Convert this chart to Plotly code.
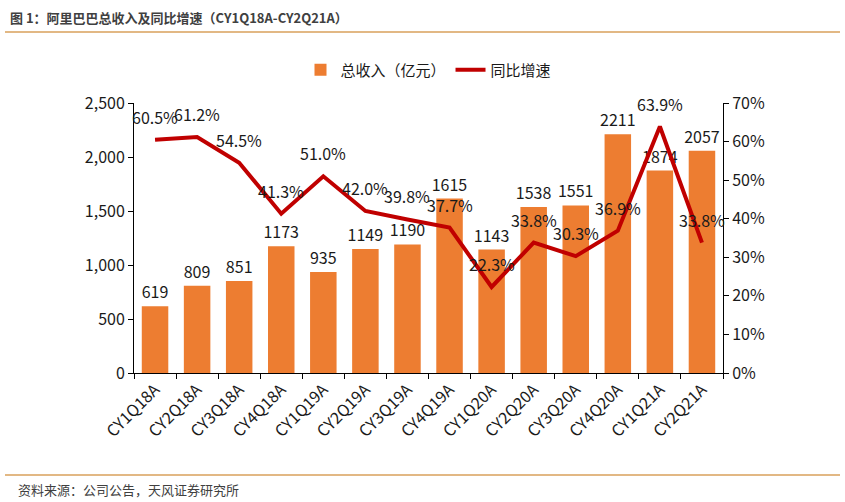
import plotly.graph_objects as go

categories = ["CY1Q18A", "CY2Q18A", "CY3Q18A", "CY4Q18A", "CY1Q19A", "CY2Q19A", "CY3Q19A",
              "CY4Q19A", "CY1Q20A", "CY2Q20A", "CY3Q20A", "CY4Q20A", "CY1Q21A", "CY2Q21A"]
revenue = [619, 809, 851, 1173, 935, 1149, 1190, 1615, 1143, 1538, 1551, 2211, 1874, 2057]
growth = [0.605, 0.612, 0.545, 0.413, 0.510, 0.420, 0.398, 0.377, 0.223, 0.338, 0.303, 0.369, 0.639, 0.338]
growth_labels = ["60.5%", "61.2%", "54.5%", "41.3%", "51.0%", "42.0%", "39.8%", "37.7%",
                 "22.3%", "33.8%", "30.3%", "36.9%", "63.9%", "33.8%"]

FONT = "Noto Sans CJK SC"
TXT = "#1a1a1a"
PW, PH = 589, 270

fig = go.Figure()
fig.add_trace(go.Bar(
    x=categories, y=revenue, name="总收入（亿元）",
    marker=dict(color="#ED7D31", line=dict(width=0)),
    width=0.63,
    text=[str(v) for v in revenue], textposition="outside",
    textfont=dict(size=16, color=TXT, family=FONT),
    constraintext="none",
    cliponaxis=False,
))
fig.add_trace(go.Scatter(
    x=categories, y=growth, name="同比增速", yaxis="y2",
    mode="lines", line=dict(color="#C00000", width=4),
))

for c, g, t in zip(categories, growth, growth_labels):
    fig.add_annotation(x=c, y=g, xref="x", yref="y2", text=t, showarrow=False,
                       yshift=23, font=dict(size=16, color=TXT, family=FONT))

fig.update_layout(
    width=845, height=502,
    paper_bgcolor="white", plot_bgcolor="white",
    margin=dict(l=134, r=122, t=103, b=129, autoexpand=False),
    font=dict(family=FONT, color=TXT),
    bargap=0.37,
    showlegend=True,
    legend=dict(orientation="h", x=0.5, xanchor="center", y=1 + (103 - 70) / PH, yanchor="middle",
                font=dict(size=15, color=TXT, family=FONT), traceorder="normal",
                itemwidth=30),
    xaxis=dict(
        type="category", tickangle=-45, tickfont=dict(size=16, color=TXT, family=FONT),
        showline=True, linecolor="#000", linewidth=1,
        ticks="outside", ticklen=5, tickcolor="#000", tickson="boundaries",
        showgrid=False, range=[-0.5, 13.5], automargin=False,
    ),
    yaxis=dict(
        range=[0, 2500], dtick=500, tickformat=",",
        tickfont=dict(size=16, color=TXT, family=FONT),
        showline=True, linecolor="#000", linewidth=1,
        ticks="outside", ticklen=5, tickcolor="#000",
        showgrid=False, zeroline=False, automargin=False,
    ),
    yaxis2=dict(
        range=[0, 0.7], dtick=0.1, tickformat=".0%", overlaying="y", side="right",
        tickfont=dict(size=16, color=TXT, family=FONT),
        showline=True, linecolor="#000", linewidth=1,
        ticks="outside", ticklen=5, tickcolor="#000",
        showgrid=False, zeroline=False, automargin=False,
    ),
)

# Title, source and separator lines
fig.add_annotation(xref="paper", yref="paper", x=-126 / PW, y=1 + (103 - 18) / PH, xanchor="left", yanchor="middle",
                   text="<b>图 1：阿里巴巴总收入及同比增速（CY1Q18A-CY2Q21A）</b>", showarrow=False,
                   font=dict(size=13, color="#404040", family=FONT))
fig.add_annotation(xref="paper", yref="paper", x=-118 / PW, y=-(489 - 373) / PH, xanchor="left", yanchor="middle",
                   text="资料来源：公司公告，天风证券研究所", showarrow=False,
                   font=dict(size=13, color="#404040", family=FONT))
fig.add_shape(type="line", xref="paper", yref="paper", x0=-129 / PW, x1=(840 - 134) / PW,
              y0=1 + (103 - 32) / PH, y1=1 + (103 - 32) / PH, line=dict(color="#D9A05B", width=1.5))
fig.add_shape(type="line", xref="paper", yref="paper", x0=-129 / PW, x1=(840 - 134) / PW,
              y0=-(475 - 373) / PH, y1=-(475 - 373) / PH, line=dict(color="#D9A05B", width=1.5))

fig.write_html("out.html", config={"displayModeBar": False},
               post_script="document.body.style.margin='0';document.body.style.padding='0';")
